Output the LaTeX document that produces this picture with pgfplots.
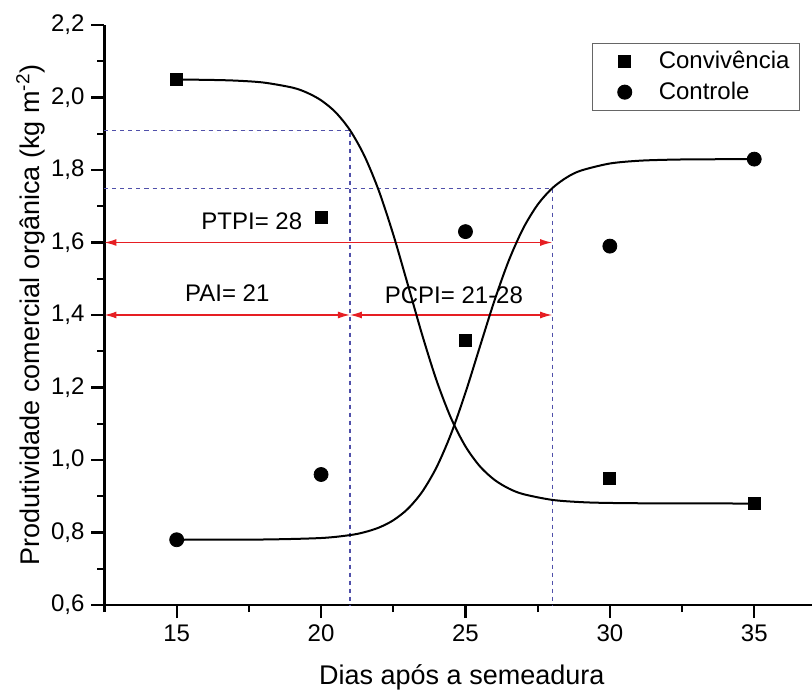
\documentclass[border=0pt]{standalone}
\usepackage{pgfplots}
\pgfplotsset{compat=1.18}
\usepackage{fontspec}
\setmainfont{Liberation Sans}
\usetikzlibrary{arrows.meta}
\definecolor{guide}{RGB}{80,80,170}
\definecolor{arrowred}{RGB}{230,30,35}
\begin{document}
\begin{tikzpicture}
\begin{axis}[
  scale only axis,
  width=353.75pt, height=290pt,
  xmin=12.5, xmax=37, ymin=0.6, ymax=2.2,
  axis x line*=bottom, axis y line*=left,
  axis line style={line width=1.2pt},
  xtick={15,20,25,30,35},
  minor xtick={12.5,17.5,22.5,27.5,32.5},
  ytick={0.6,0.8,1.0,1.2,1.4,1.6,1.8,2.0,2.2},
  minor ytick={0.7,0.9,1.1,1.3,1.5,1.7,1.9,2.1},
  tick align=outside,
  major tick length=6.5pt, minor tick length=3.5pt,
  every tick/.style={line width=1.1pt, black},
  /pgf/number format/assume math mode=true,
  yticklabel style={/pgf/number format/.cd, fixed, fixed zerofill, precision=1, use comma},
  tick label style={font=\fontsize{12}{14}\selectfont},
  xlabel={Dias após a semeadura},
  ylabel={Produtividade comercial orgânica (kg m\textsuperscript{-2})},
  every axis x label/.style={at={(axis description cs:0.505,-0.125)}, anchor=center, font=\fontsize{13.5}{16}\selectfont},
  every axis y label/.style={at={(axis description cs:-0.104,0.5)}, rotate=90, anchor=center, font=\fontsize{13.5}{16}\selectfont},
  clip=false,
  legend style={at={(rel axis cs:0.983,0.969)}, anchor=north east,
    draw=gray!80!black, line width=0.5pt, font=\fontsize{12}{14}\selectfont,
    inner xsep=3pt, inner ysep=2pt, row sep=1pt},
  legend cell align=left,
  legend image code/.code={\path[draw=none,fill=none] (0pt,-3pt) rectangle (28pt,3pt); \draw[#1] plot coordinates {(13pt,0pt)};},
]
% guide lines
\addplot[forget plot, guide, line width=0.6pt, dash pattern=on 2pt off 2pt] coordinates {(12.5,1.91) (21,1.91) (21,0.6)};
\addplot[forget plot, guide, line width=0.6pt, dash pattern=on 2pt off 2pt] coordinates {(12.5,1.75) (28,1.75) (28,0.6)};
% red arrows
\addplot[forget plot, arrowred, line width=0.6pt, {Latex[length=6pt,width=3.5pt]}-{Latex[length=6pt,width=3.5pt]}] coordinates {(12.5,1.6) (28,1.6)};
\addplot[forget plot, arrowred, line width=0.6pt, {Latex[length=6pt,width=3.5pt]}-{Latex[length=6pt,width=3.5pt]}] coordinates {(12.5,1.4) (21,1.4)};
\addplot[forget plot, arrowred, line width=0.6pt, {Latex[length=6pt,width=3.5pt]}-{Latex[length=6pt,width=3.5pt]}] coordinates {(21,1.4) (28,1.4)};
% fitted curves
\addplot[forget plot, black, line width=1pt, smooth] coordinates {
(15,2.0495) (16,2.0487) (17,2.0467) (18,2.0413) (19,2.0274) (19.5,2.0137)
(20,1.9923) (20.5,1.9594) (21,1.9100) (21.5,1.8390) (22,1.7427) (22.5,1.6219)
(23,1.4848) (23.5,1.3454) (24,1.2190) (24.5,1.1154) (25,1.0375) (25.5,0.9825)
(26,0.9455) (26.5,0.9213) (27,0.9059) (28,0.8900) (29,0.8838) (30,0.8815)
(32,0.8802) (35,0.8800)};
\addplot[forget plot, black, line width=1pt, smooth] coordinates {
(15,0.7800) (18,0.7807) (20,0.7848) (21,0.7928) (21.5,0.8008) (22,0.8135)
(22.5,0.8337) (23,0.8650) (23.5,0.9122) (24,0.9802) (24.5,1.0720) (25,1.1858)
(25.5,1.3128) (26,1.4388) (26.5,1.5502) (27,1.6391) (27.5,1.7044) (28,1.7494)
(28.5,1.7792) (29,1.7984) (30,1.8179) (31,1.8255) (32,1.8283) (33,1.8294) (35,1.8300)};
% data
\addplot[only marks, mark=square*, mark size=3pt, black] coordinates {(15,2.05) (20,1.67) (25,1.33) (30,0.95) (35,0.88)};
\addlegendentry{Convivência}
\addplot[only marks, mark=*, mark size=3.5pt, black] coordinates {(15,0.78) (20,0.96) (25,1.63) (30,1.59) (35,1.83)};
\addlegendentry{Controle}
% labels
\node[font=\fontsize{12}{14}\selectfont] at (axis cs:17.6,1.66) {PTPI= 28};
\node[font=\fontsize{12}{14}\selectfont] at (axis cs:16.75,1.46) {PAI= 21};
\node[font=\fontsize{12}{14}\selectfont] at (axis cs:24.6,1.455) {PCPI= 21-28};
\end{axis}
\pgfresetboundingbox
\path (current axis.south west) ++(-52.25pt,-42.5pt) rectangle ++(406pt,345pt);
\end{tikzpicture}
\end{document}
